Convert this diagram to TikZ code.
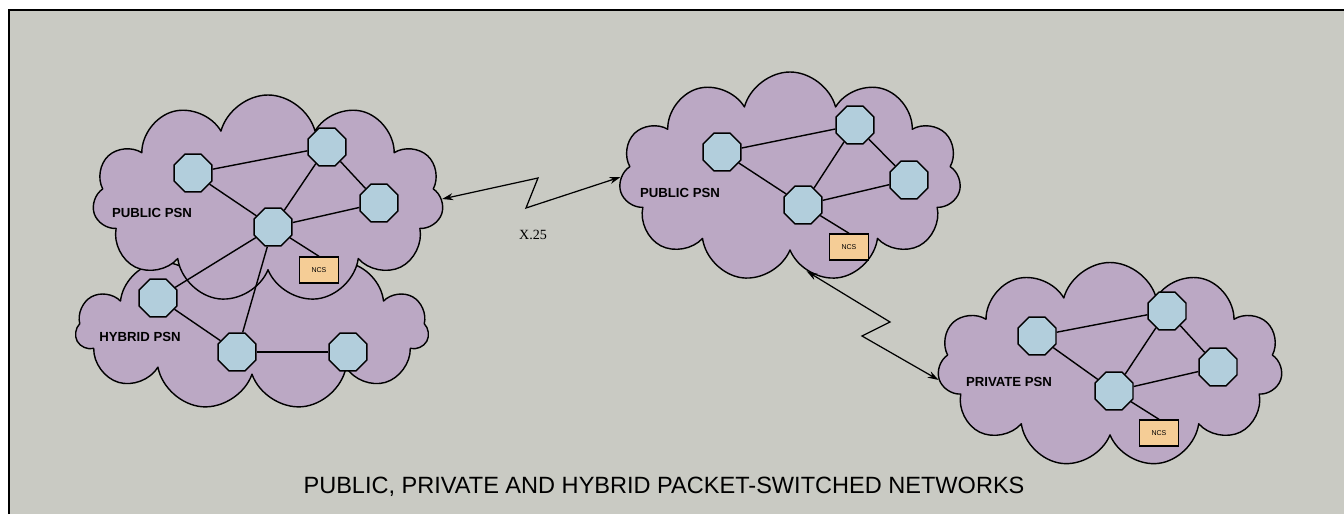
\documentclass[tikz,border=0pt]{standalone}
\usepackage{fontspec}
\setmainfont{Liberation Serif}
\setsansfont{Liberation Sans}
\usetikzlibrary{shapes.geometric,shapes.symbols,arrows.meta}
\definecolor{panel}{HTML}{C9CAC3}
\definecolor{lilac}{HTML}{BBA8C4}
\definecolor{switch}{HTML}{B2CEDC}
\definecolor{ncsfill}{HTML}{F5CD96}

\begin{document}
\begin{tikzpicture}[x=0.2mm, y=-0.2mm, line width=0.8pt,
    net/.style={cloud, cloud puffs=11, cloud ignores aspect, draw, fill=lilac, line join=round},
    sw/.style={regular polygon, regular polygon sides=8, draw, fill=switch, minimum size=8.2mm, inner sep=0pt},
    ncs/.style={rectangle, draw, fill=ncsfill, minimum width=7.8mm, minimum height=5.2mm, inner sep=0pt, font=\sffamily\fontsize{4}{5}\selectfont},
    lbl/.style={font=\sffamily\bfseries\fontsize{7.5}{9}\selectfont},
    link/.style={line width=0.7pt, {Stealth[length=2.2mm,width=1.4mm]}-{Stealth[length=2.2mm,width=1.4mm]}}]
            \useasboundingbox (0,0) rectangle (1344,514);
            \fill[white] (0,0) rectangle (1344,514);
            \fill[panel] (9,10) rectangle (1344,514);
            \draw[line width=1pt] (9,514) -- (9,10) -- (1344,10);

            \node[net, minimum width=70.6mm, minimum height=32mm] at (252,330) (hyb) {};
            \node[net, minimum width=70.2mm, minimum height=41.6mm] at (268,199) (pub) {};
            \node[net, minimum width=68.4mm, minimum height=42mm] at (790,177) (pub2) {};
            \node[net, minimum width=69mm, minimum height=41mm] at (1110,365) (priv) {};

            \node[lbl] at (152,213) (publbl) {PUBLIC PSN};
            \node[lbl] at (140,337) (hyblbl) {HYBRID PSN};
            \node[lbl] at (680,193) (pub2lbl) {PUBLIC PSN};
            \node[lbl] at (1009,382) (privlbl) {PRIVATE PSN};

            \node[sw] at (193,173) (a) {};
            \node[sw] at (327,147) (b) {};
            \node[sw] at (379,203) (c) {};
            \node[sw] at (273,227) (d) {};
            \node[sw] at (158,298) (e) {};
            \node[sw] at (237,352) (f) {};
            \node[sw] at (348,352) (g) {};
            \node[ncs] at (319,270) (n) {NCS};
            \draw (a) -- (b);
            \draw (a) -- (d);
            \draw (b) -- (d);
            \draw (b) -- (c);
            \draw (d) -- (c);
            \draw (d) -- (n.north);
            \draw (d) -- (e);
            \draw (d) -- (f);
            \draw (e) -- (f);
            \draw (f) -- (g);

            \node[sw] at (722,152) (a2) {};
            \node[sw] at (855,125) (b2) {};
            \node[sw] at (909,180) (c2) {};
            \node[sw] at (803,205) (d2) {};
            \node[ncs] at (849,247) (n2) {NCS};
            \draw (a2) -- (b2);
            \draw (a2) -- (d2);
            \draw (b2) -- (d2);
            \draw (b2) -- (c2);
            \draw (d2) -- (c2);
            \draw (d2) -- (n2.north);

            \node[sw] at (1037,336) (a3) {};
            \node[sw] at (1167,311) (b3) {};
            \node[sw] at (1218,367) (c3) {};
            \node[sw] at (1114,391) (d3) {};
            \node[ncs] at (1159,433) (n3) {NCS};
            \draw (a3) -- (b3);
            \draw (a3) -- (d3);
            \draw (b3) -- (d3);
            \draw (b3) -- (c3);
            \draw (d3) -- (c3);
            \draw (d3) -- (n3.north);

            \coordinate (x1) at (538,178);
            \coordinate (x2) at (526,208);
            \draw[link] (pub.east) -- (x1) -- (x2) -- (pub2.west);
            \node[font=\rmfamily\fontsize{8}{9}\selectfont] at (533,235) (x25) {X.25};

            \coordinate (y1) at (890,322);
            \coordinate (y2) at (862,336);
            \draw[link] (pub2.-80) -- (y1) -- (y2) -- (priv.185);

            \node[font=\sffamily\fontsize{13.4}{16}\selectfont] at (664,487) (title) {PUBLIC, PRIVATE AND HYBRID PACKET-SWITCHED NETWORKS};
        \end{tikzpicture}
\end{document}
